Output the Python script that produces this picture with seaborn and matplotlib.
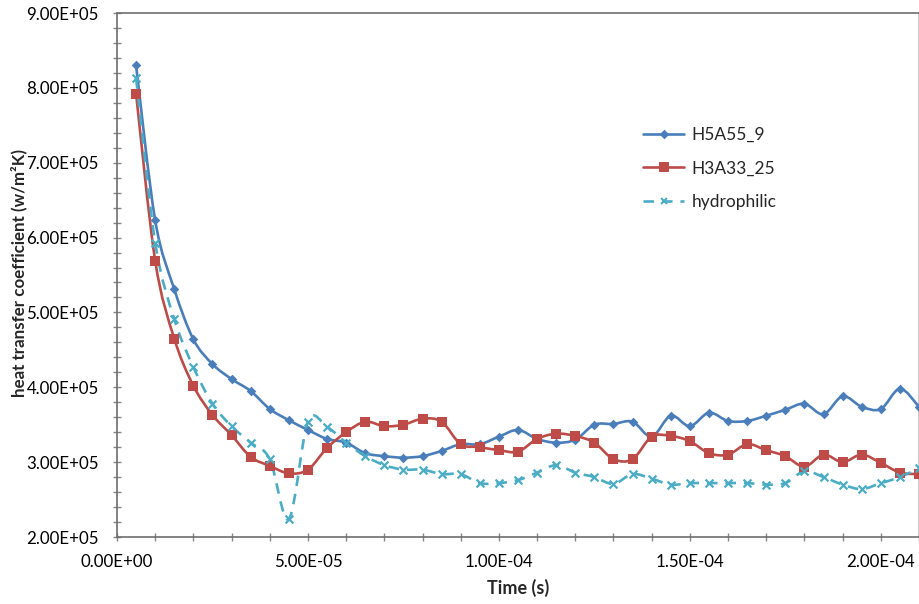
import numpy as np
import pandas as pd
import matplotlib
matplotlib.use("Agg")
import matplotlib.pyplot as plt
import seaborn as sns
from matplotlib.path import Path
from matplotlib.patches import PathPatch
from matplotlib.lines import Line2D
from matplotlib.ticker import MultipleLocator, FuncFormatter

# Time samples (s)
time_s = [5e-6 * k for k in range(1, 43)]

# Heat transfer coefficient (W/m^2K)
h5a55_9 = [8.30e5, 6.23e5, 5.31e5, 4.64e5, 4.31e5, 4.11e5, 3.95e5, 3.71e5, 3.56e5, 3.43e5,
           3.31e5, 3.26e5, 3.12e5, 3.08e5, 3.06e5, 3.08e5, 3.15e5, 3.24e5, 3.24e5, 3.34e5,
           3.43e5, 3.31e5, 3.26e5, 3.30e5, 3.50e5, 3.51e5, 3.54e5, 3.34e5, 3.62e5, 3.48e5,
           3.66e5, 3.55e5, 3.55e5, 3.62e5, 3.70e5, 3.78e5, 3.64e5, 3.88e5, 3.74e5, 3.71e5,
           3.98e5, 3.74e5]
h3a33_25 = [7.92e5, 5.69e5, 4.65e5, 4.02e5, 3.63e5, 3.36e5, 3.07e5, 2.95e5, 2.85e5, 2.90e5,
            3.19e5, 3.40e5, 3.54e5, 3.48e5, 3.50e5, 3.58e5, 3.54e5, 3.24e5, 3.20e5, 3.16e5,
            3.14e5, 3.31e5, 3.38e5, 3.35e5, 3.26e5, 3.04e5, 3.04e5, 3.34e5, 3.35e5, 3.28e5,
            3.12e5, 3.10e5, 3.24e5, 3.16e5, 3.08e5, 2.94e5, 3.10e5, 3.00e5, 3.10e5, 2.99e5,
            2.86e5, 2.84e5]
hydrophilic = [8.13e5, 5.93e5, 4.91e5, 4.27e5, 3.78e5, 3.48e5, 3.26e5, 3.04e5, 2.24e5, 3.54e5,
               3.47e5, 3.26e5, 3.08e5, 2.96e5, 2.90e5, 2.90e5, 2.84e5, 2.84e5, 2.72e5, 2.72e5,
               2.76e5, 2.86e5, 2.96e5, 2.86e5, 2.80e5, 2.71e5, 2.84e5, 2.78e5, 2.70e5, 2.72e5,
               2.72e5, 2.72e5, 2.72e5, 2.70e5, 2.72e5, 2.88e5, 2.80e5, 2.70e5, 2.64e5, 2.72e5,
               2.80e5, 2.92e5]

series_names = ["H5A55_9", "H3A33_25", "hydrophilic"]
series_values = [h5a55_9, h3a33_25, hydrophilic]

colors = {"H5A55_9": "#4A7EBB", "H3A33_25": "#BE4B48", "hydrophilic": "#4BACC6"}
markers = {"H5A55_9": "D", "H3A33_25": "s", "hydrophilic": "x"}
msizes = {"H5A55_9": 24, "H3A33_25": 42, "hydrophilic": 32}
dashes = {"H5A55_9": "-", "H3A33_25": "-", "hydrophilic": (0, (4, 3))}

df = pd.concat(
    [pd.DataFrame({"time": time_s, "h": vals, "series": name})
     for name, vals in zip(series_names, series_values)],
    ignore_index=True,
)

sns.set_theme(style="white")
plt.rcParams["font.family"] = ["Lato", "DejaVu Sans"]

fig, ax = plt.subplots(figsize=(9.2, 6.04), dpi=100)
fig.subplots_adjust(left=117 / 920, right=919 / 920, top=1 - 13 / 604, bottom=1 - 537 / 604)


def smooth_path(x, y):
    """Cubic Bezier path through the points (Catmull-Rom style tangents)."""
    x = np.asarray(x, float)
    y = np.asarray(y, float)
    verts = [(x[0], y[0])]
    codes = [Path.MOVETO]
    n = len(x)
    for i in range(n - 1):
        x0, y0 = (x[i - 1], y[i - 1]) if i > 0 else (x[i], y[i])
        x3, y3 = (x[i + 2], y[i + 2]) if i + 2 < n else (x[i + 1], y[i + 1])
        c1 = (x[i] + (x[i + 1] - x0) / 6, y[i] + (y[i + 1] - y0) / 6)
        c2 = (x[i + 1] - (x3 - x[i]) / 6, y[i + 1] - (y3 - y[i]) / 6)
        verts += [c1, c2, (x[i + 1], y[i + 1])]
        codes += [Path.CURVE4] * 3
    return Path(verts, codes)


for name in series_names:
    sub = df[df["series"] == name]
    patch = PathPatch(smooth_path(sub["time"], sub["h"]), fill=False,
                      edgecolor=colors[name], lw=1.9, linestyle=dashes[name],
                      zorder=2, clip_on=True)
    ax.add_patch(patch)

for name in series_names:
    sub = df[df["series"] == name]
    kw = dict(linewidth=1.6) if markers[name] == "x" else dict(linewidth=0)
    sns.scatterplot(data=sub, x="time", y="h", ax=ax, marker=markers[name],
                    s=msizes[name], color=colors[name], zorder=3, legend=False,
                    clip_on=False, **kw)

ax.set_xlim(0, 2.1e-4)
ax.set_ylim(2.0e5, 9.0e5)

ax.xaxis.set_major_locator(MultipleLocator(5e-5))
ax.xaxis.set_minor_locator(MultipleLocator(1e-5))
ax.yaxis.set_major_locator(MultipleLocator(1e5))
ax.yaxis.set_minor_locator(MultipleLocator(2e4))
sci = FuncFormatter(lambda v, pos: f"{v:.2E}")
ax.xaxis.set_major_formatter(sci)
ax.yaxis.set_major_formatter(sci)

ax.tick_params(axis="both", which="both", direction="inout", color="#868686",
               labelsize=12.2, labelcolor="#000000", bottom=True, left=True)
ax.tick_params(axis="both", which="major", length=6, width=1)
ax.tick_params(axis="both", which="minor", length=6, width=1)
ax.tick_params(axis="x", which="major", pad=9)
ax.tick_params(axis="y", which="major", pad=10)

for side in ["left", "bottom", "top"]:
    ax.spines[side].set_color("#6E6E6E")
    ax.spines[side].set_linewidth(1.2)
ax.spines["right"].set_color("#BFBFBF")
ax.spines["right"].set_linewidth(1.2)

ax.set_xlabel("Time (s)", fontsize=13, fontweight="bold", labelpad=7)
ax.set_ylabel("heat transfer coefficient (w/m²K)", fontsize=12.2, fontweight="bold")
ax.yaxis.label.set_va("center")
ax.yaxis.set_label_coords((19 - 117) / 802, (537 - 273) / 524)

handles = []
for name in series_names:
    ms = {"D": 3.5, "s": 6, "x": 5}[markers[name]]
    handles.append(Line2D([0], [0], color=colors[name], lw=1.9, linestyle=dashes[name],
                          marker=markers[name], markersize=ms, markeredgewidth=1.4))
leg = ax.legend(handles, series_names, loc="upper left", bbox_to_anchor=(0.636, 0.812),
                frameon=False, fontsize=12.5, handlelength=2.4, handletextpad=0.4,
                labelspacing=1.0)

fig.savefig("out.png", dpi=100)
